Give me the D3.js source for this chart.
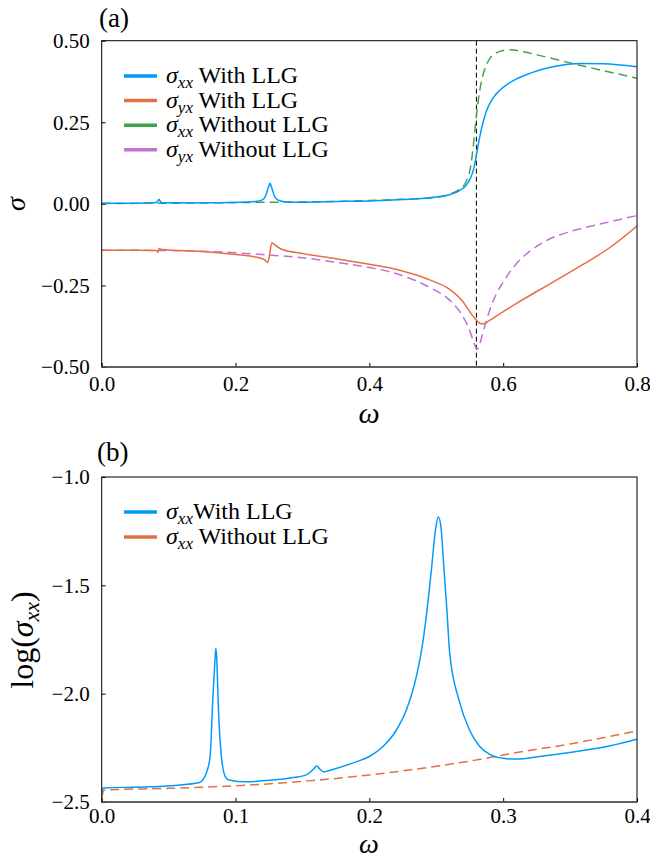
<!DOCTYPE html>
<html>
<head>
<meta charset="utf-8">
<script src="https://cdn.jsdelivr.net/npm/d3@7"></script>
<style>
  html, body { margin: 0; padding: 0; background: #fff; }
  svg text { font-family: 'Liberation Serif', 'DejaVu Serif', serif !important; fill: #000; }
</style>
</head>
<body>
<svg id="chart" width="650" height="859"></svg>
<script>
// ---------- DATA ----------
// Panel (a): sigma vs omega
const sxxWithLLG = [
  [0,0.002],[0.05,0.002],[0.08,0.003],[0.083,0.006],[0.0855,0.014],[0.088,0.006],[0.091,0.003],
  [0.15,0.003],[0.2,0.004],[0.23,0.007],[0.24,0.012],[0.245,0.025],[0.249,0.05],[0.2515,0.063],
  [0.254,0.05],[0.258,0.025],[0.263,0.012],[0.275,0.006],[0.3,0.005],[0.35,0.007],[0.4,0.009],
  [0.45,0.013],[0.5,0.021],[0.52,0.028],[0.536,0.042],[0.545,0.058],[0.551,0.078],[0.556,0.108],
  [0.56,0.15],[0.565,0.205],[0.57,0.25],[0.576,0.29],[0.585,0.325],[0.595,0.348],[0.606,0.366],
  [0.62,0.383],[0.64,0.40],[0.66,0.413],[0.685,0.424],[0.715,0.43],[0.75,0.429],[0.8,0.42]
];
const syxWithLLG = [
  [0,-0.142],[0.05,-0.142],[0.082,-0.143],[0.084,-0.148],[0.0858,-0.137],[0.09,-0.140],
  [0.15,-0.146],[0.2,-0.155],[0.23,-0.163],[0.243,-0.171],[0.248,-0.18],[0.251,-0.155],
  [0.254,-0.12],[0.258,-0.124],[0.265,-0.135],[0.27,-0.14],[0.3,-0.152],[0.35,-0.168],
  [0.4,-0.185],[0.43,-0.196],[0.46,-0.212],[0.49,-0.233],[0.52,-0.262],[0.54,-0.300],
  [0.55,-0.33],[0.558,-0.352],[0.565,-0.366],[0.57,-0.368],[0.576,-0.362],[0.583,-0.353],
  [0.595,-0.337],[0.62,-0.305],[0.67,-0.245],[0.72,-0.185],[0.76,-0.133],[0.8,-0.068]
];
const sxxWithoutLLG = [
  [0,0.001],[0.1,0.002],[0.2,0.004],[0.3,0.006],[0.4,0.010],[0.45,0.014],[0.5,0.02],
  [0.52,0.03],[0.535,0.045],[0.545,0.07],[0.551,0.11],[0.555,0.17],[0.559,0.25],[0.563,0.32],
  [0.567,0.37],[0.572,0.41],[0.58,0.445],[0.59,0.463],[0.6,0.47],[0.612,0.472],[0.63,0.466],
  [0.66,0.452],[0.7,0.432],[0.75,0.408],[0.8,0.385]
];
const syxWithoutLLG = [
  [0,-0.142],[0.1,-0.143],[0.2,-0.150],[0.25,-0.157],[0.3,-0.165],[0.35,-0.179],[0.4,-0.195],
  [0.43,-0.208],[0.46,-0.228],[0.49,-0.256],[0.52,-0.295],[0.535,-0.33],[0.545,-0.365],
  [0.552,-0.40],[0.557,-0.43],[0.561,-0.445],[0.565,-0.43],[0.569,-0.40],[0.574,-0.365],
  [0.58,-0.325],[0.59,-0.275],[0.6,-0.24],[0.612,-0.203],[0.625,-0.172],[0.64,-0.145],
  [0.655,-0.124],[0.67,-0.107],[0.7,-0.085],[0.745,-0.062],[0.8,-0.036]
];
const resonanceOmega = 0.56;

// Panel (b): log(sigma_xx) vs omega
const logSxxWithLLG = [
  [0,-2.46],[0.001,-2.435],[0.036,-2.43],[0.061,-2.42],[0.073,-2.41],[0.0785,-2.36],
  [0.081,-2.29],[0.083,-2.03],[0.0845,-1.86],[0.0853,-1.79],[0.086,-1.84],[0.087,-2.03],
  [0.09,-2.32],[0.093,-2.39],[0.096,-2.40],[0.107,-2.407],[0.125,-2.40],[0.14,-2.39],
  [0.153,-2.375],[0.158,-2.35],[0.1607,-2.334],[0.163,-2.348],[0.166,-2.361],[0.17,-2.355],
  [0.19,-2.315],[0.2,-2.29],[0.21,-2.245],[0.22,-2.17],[0.228,-2.07],[0.234,-1.95],
  [0.239,-1.80],[0.243,-1.62],[0.2465,-1.42],[0.2495,-1.24],[0.2515,-1.185],[0.2535,-1.23],
  [0.2555,-1.40],[0.258,-1.62],[0.26,-1.81],[0.267,-2.03],[0.275,-2.17],[0.282,-2.24],
  [0.29,-2.28],[0.3,-2.298],[0.31,-2.302],[0.327,-2.29],[0.357,-2.265],[0.38,-2.24],[0.4,-2.21]
];
const logSxxWithoutLLG = [
  [0,-2.48],[0.002,-2.445],[0.05,-2.437],[0.1,-2.425],[0.15,-2.405],[0.2,-2.375],
  [0.25,-2.335],[0.29,-2.295],[0.3,-2.283],[0.35,-2.232],[0.4,-2.172]
];

// tick values
const ticksAX = [0, 0.2, 0.4, 0.6, 0.8];
const ticksAY = [-0.5, -0.25, 0, 0.25, 0.5];
const ticksBX = [0, 0.1, 0.2, 0.3, 0.4];
const ticksBY = [-2.5, -2.0, -1.5, -1.0];

// ---------- STYLE ----------
const FONT = "'Liberation Serif', 'DejaVu Serif', serif";
const C_BLUE = '#009AFA', C_ORANGE = '#E36F47', C_GREEN = '#3EA44E', C_PURPLE = '#C271D2';
const svg = d3.select('#chart');
const L = 101.7, R = 637;

function panel(opts) {
  const g = svg.append('g');
  const x = d3.scaleLinear().domain(opts.xd).range([L, R]);
  const y = d3.scaleLinear().domain(opts.yd).range([opts.bottom, opts.top]);
  const id = 'clip' + opts.name;
  svg.append('clipPath').attr('id', id).append('rect')
    .attr('x', L).attr('y', opts.top).attr('width', R - L).attr('height', opts.bottom - opts.top);

  const ax = g.append('g').attr('transform', `translate(0,${opts.bottom})`)
    .call(d3.axisBottom(x).tickValues(opts.xt).tickFormat(d3.format('.1f')).tickSize(-4).tickPadding(opts.xpad));
  const ay = g.append('g').attr('transform', `translate(${L},0)`)
    .call(d3.axisLeft(y).tickValues(opts.yt).tickFormat(d3.format(opts.yfmt)).tickSize(-4).tickPadding(12));
  [ax, ay].forEach(a => {
    a.attr('font-family', null).attr('font-size', null);
    a.select('.domain').remove();
    a.selectAll('.tick line').attr('stroke', '#000').attr('stroke-width', 1);
    a.selectAll('.tick text').style('font-family', FONT).style('font-size', '21px');
  });

  const plot = g.append('g').attr('clip-path', `url(#${id})`);
  const line = d3.line().x(d => x(d[0])).y(d => y(d[1])).curve(d3.curveMonotoneX);
  return {g, x, y, plot, line};
}

// ---------- PANEL (a) ----------
const pa = panel({name: 'a', xd: [0, 0.8], yd: [-0.5, 0.5], top: 40.7, bottom: 367,
  xt: ticksAX, yt: ticksAY, yfmt: '.2f', xpad: 9});

pa.plot.append('line')
  .attr('x1', pa.x(resonanceOmega)).attr('x2', pa.x(resonanceOmega))
  .attr('y1', 40.7).attr('y2', 367)
  .attr('stroke', '#000').attr('stroke-width', 1).attr('stroke-dasharray', '5,3');

const seriesA = [
  {d: sxxWithLLG, c: C_BLUE, dash: null},
  {d: syxWithLLG, c: C_ORANGE, dash: null},
  {d: sxxWithoutLLG, c: C_GREEN, dash: '9,5'},
  {d: syxWithoutLLG, c: C_PURPLE, dash: '9,5'}
];
[2, 3, 0, 1].forEach(i => {
  const s = seriesA[i];
  pa.plot.append('path').datum(s.d).attr('d', pa.line)
    .attr('fill', 'none').attr('stroke', s.c).attr('stroke-width', 1.5)
    .attr('stroke-dasharray', s.dash);
});

// ---------- PANEL (b) ----------
const pb = panel({name: 'b', xd: [0, 0.4], yd: [-2.5, -1.0], top: 477, bottom: 802,
  xt: ticksBX, yt: ticksBY, yfmt: '.1f', xpad: 6});
pb.plot.append('path').datum(logSxxWithoutLLG).attr('d', pb.line)
  .attr('fill', 'none').attr('stroke', C_ORANGE).attr('stroke-width', 1.5).attr('stroke-dasharray', '9,5');
pb.plot.append('path').datum(logSxxWithLLG).attr('d', pb.line)
  .attr('fill', 'none').attr('stroke', C_BLUE).attr('stroke-width', 1.5);

// ---------- FRAMES ----------
[[40.7, 367], [477, 802]].forEach(([t, b]) => {
  svg.append('rect').attr('x', L).attr('y', t).attr('width', R - L).attr('height', b - t)
    .attr('fill', 'none').attr('stroke', '#000').attr('stroke-width', 1);
  svg.append('line').attr('x1', L).attr('x2', R).attr('y1', b).attr('y2', b)
    .attr('stroke', '#555').attr('stroke-width', 1.6);
});

// ---------- LEGENDS ----------
function legend(rows, y0, dy) {
  rows.forEach((r, i) => {
    const yy = y0 + i * dy;
    svg.append('line').attr('x1', 124).attr('x2', 157).attr('y1', yy).attr('y2', yy)
      .attr('stroke', r.c).attr('stroke-width', 3.5);
    const t = svg.append('text').attr('x', 166).attr('y', yy + 7).style('font-size', '24px');
    t.append('tspan').attr('font-style', 'italic').text('σ');
    t.append('tspan').attr('font-style', 'italic').style('font-size', '17px').attr('dy', 5).text(r.sub);
    t.append('tspan').attr('dy', -5).text(r.label);
  });
}
legend([
  {c: C_BLUE, sub: 'xx', label: ' With LLG'},
  {c: C_ORANGE, sub: 'yx', label: ' With LLG'},
  {c: C_GREEN, sub: 'xx', label: ' Without LLG'},
  {c: C_PURPLE, sub: 'yx', label: ' Without LLG'}
], 76, 24.6);
legend([
  {c: C_BLUE, sub: 'xx', label: 'With LLG'},
  {c: C_ORANGE, sub: 'xx', label: ' Without LLG'}
], 512, 25);

// ---------- LABELS ----------
svg.append('text').attr('x', 99).attr('y', 27).style('font-size', '27px').text('(a)');
svg.append('text').attr('x', 97).attr('y', 461).style('font-size', '27px').text('(b)');

svg.append('text').attr('x', 369).attr('y', 423).attr('text-anchor', 'middle')
  .style('font-size', '30px').attr('font-style', 'italic').text('ω');
svg.append('text').attr('x', 369).attr('y', 852.5).attr('text-anchor', 'middle')
  .style('font-size', '28px').attr('font-style', 'italic').text('ω');

svg.append('text').attr('transform', 'translate(25,204) rotate(-90)').attr('text-anchor', 'middle')
  .style('font-size', '28px').attr('font-style', 'italic').text('σ');

const yl = svg.append('text').attr('transform', 'translate(33,640) rotate(-90)')
  .attr('text-anchor', 'middle').style('font-size', '32px');
yl.append('tspan').text('log(');
yl.append('tspan').attr('font-style', 'italic').text('σ');
yl.append('tspan').attr('font-style', 'italic').style('font-size', '22px').attr('dy', 6).text('xx');
yl.append('tspan').attr('dy', -6).text(')');
</script>
</body>
</html>
